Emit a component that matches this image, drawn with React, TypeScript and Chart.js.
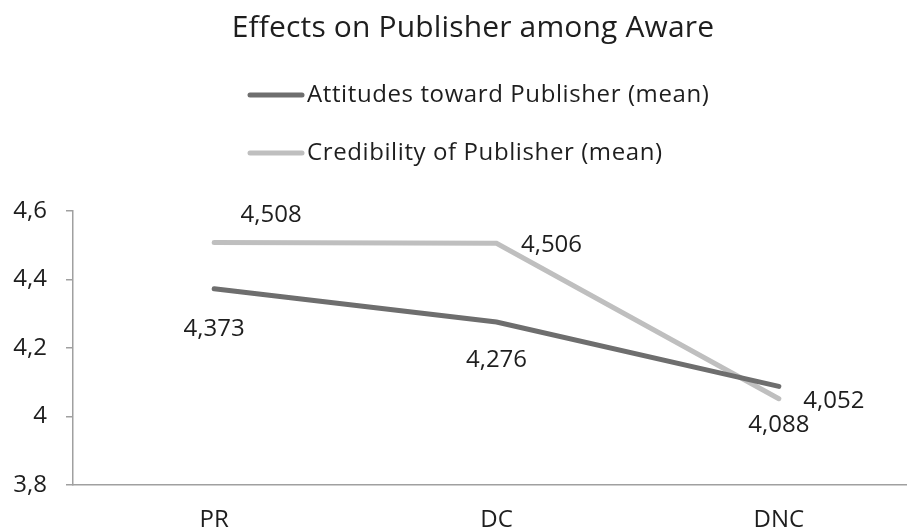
import React, { useEffect, useRef } from "react";
import { Chart, registerables } from "chart.js";

Chart.register(...registerables);

const categories = ["PR", "DC", "DNC"];
const attitudes = [4.373, 4.276, 4.088];
const credibility = [4.508, 4.506, 4.052];
const seriesNames = ["Attitudes toward Publisher (mean)", "Credibility of Publisher (mean)"];
const seriesColors = ["#6e6e6e", "#bfbfbf"];
const yTicks = [3.8, 4.0, 4.2, 4.4, 4.6];
const titleText = "Effects on Publisher among Aware";

const FONT = "'Open Sans', Lato, sans-serif";
const TEXT = "#1e1e1e";

// label offsets (styling) for each series / point
const labelOffsets = [
  [[0, 40], [0, 38], [0, 39]],
  [[57, -27], [55, 2], [55, 2]],
];

const fmt = (v: number, digits: number) => {
  const s = digits === 1 ? String(Number(v.toFixed(1))) : v.toFixed(digits);
  return s.replace(".", ",");
};

const decorPlugin = {
  id: "decor",
  afterDraw(chart: any) {
    const ctx = chart.ctx;
    ctx.save();
    // title
    ctx.fillStyle = TEXT;
    ctx.font = `30px ${FONT}`;
    ctx.letterSpacing = "0.15px";
    ctx.textAlign = "center";
    ctx.textBaseline = "middle";
    ctx.fillText(titleText, 473, 28);
    // legend
    const rows = [95, 153];
    seriesNames.forEach((name, i) => {
      ctx.strokeStyle = seriesColors[i];
      ctx.lineWidth = 5;
      ctx.lineCap = "round";
      ctx.beginPath();
      ctx.moveTo(250, rows[i]);
      ctx.lineTo(302, rows[i]);
      ctx.stroke();
      ctx.fillStyle = TEXT;
      ctx.font = `24px ${FONT}`;
      ctx.letterSpacing = "0.6px";
      ctx.textAlign = "left";
      ctx.textBaseline = "middle";
      ctx.fillText(name, 307, rows[i]);
    });
    ctx.letterSpacing = "0px";
    // data labels
    chart.data.datasets.forEach((ds: any, di: number) => {
      const meta = chart.getDatasetMeta(di);
      meta.data.forEach((pt: any, i: number) => {
        const [dx, dy] = labelOffsets[di][i];
        ctx.fillStyle = TEXT;
        ctx.font = `24px ${FONT}`;
        ctx.textAlign = "center";
        ctx.textBaseline = "middle";
        ctx.fillText(fmt(ds.data[i], 3), pt.x + dx, pt.y + dy);
      });
    });
    ctx.restore();
  },
};

export default function App() {
  const ref = useRef<HTMLCanvasElement | null>(null);
  useEffect(() => {
    if (!ref.current) return;
    const chart = new Chart(ref.current, {
      type: "line",
      data: {
        labels: categories,
        datasets: [
          {
            label: seriesNames[0],
            data: attitudes,
            borderColor: seriesColors[0],
            backgroundColor: seriesColors[0],
            borderWidth: 5,
            borderCapStyle: "round",
            pointRadius: 0,
            tension: 0,
          },
          {
            label: seriesNames[1],
            data: credibility,
            borderColor: seriesColors[1],
            backgroundColor: seriesColors[1],
            borderWidth: 5,
            borderCapStyle: "round",
            pointRadius: 0,
            tension: 0,
          },
        ],
      },
      options: {
        responsive: false,
        animation: false,
        devicePixelRatio: 1,
        layout: { padding: { top: 211, right: 10, bottom: 0, left: 0 } },
        plugins: {
          legend: { display: false },
          title: { display: false },
          tooltip: { enabled: false },
        },
        scales: {
          x: {
            type: "category",
            offset: true,
            grid: { display: false, drawTicks: false },
            border: { display: true, color: "#a0a0a0", width: 1.5 },
            ticks: {
              color: TEXT,
              font: { family: FONT, size: 24 },
              padding: 21,
              maxRotation: 0,
            },
            afterFit: (s: any) => {
              s.height = 47;
            },
          },
          y: {
            min: 3.8,
            max: 4.6,
            afterBuildTicks: (s: any) => {
              s.ticks = yTicks.map((v) => ({ value: v }));
            },
            grid: {
              display: true,
              drawOnChartArea: false,
              drawTicks: true,
              tickLength: 7,
              color: "#a0a0a0",
              lineWidth: 1.5,
            },
            border: { display: true, color: "#a0a0a0", width: 1.5 },
            ticks: {
              color: TEXT,
              font: { family: FONT, size: 24 },
              padding: 19,
              callback: (v: any) => fmt(Number(v), 1),
            },
            afterFit: (s: any) => {
              s.width = 73;
            },
          },
        },
      },
      plugins: [decorPlugin],
    } as any);
    return () => chart.destroy();
  }, []);
  return (
    <div
      style={{
        position: "fixed",
        left: 0,
        top: 0,
        width: 907,
        height: 532,
        overflow: "hidden",
        background: "#fff",
      }}
    >
      <canvas ref={ref} width={930} height={532} style={{ display: "block" }} />
    </div>
  );
}
